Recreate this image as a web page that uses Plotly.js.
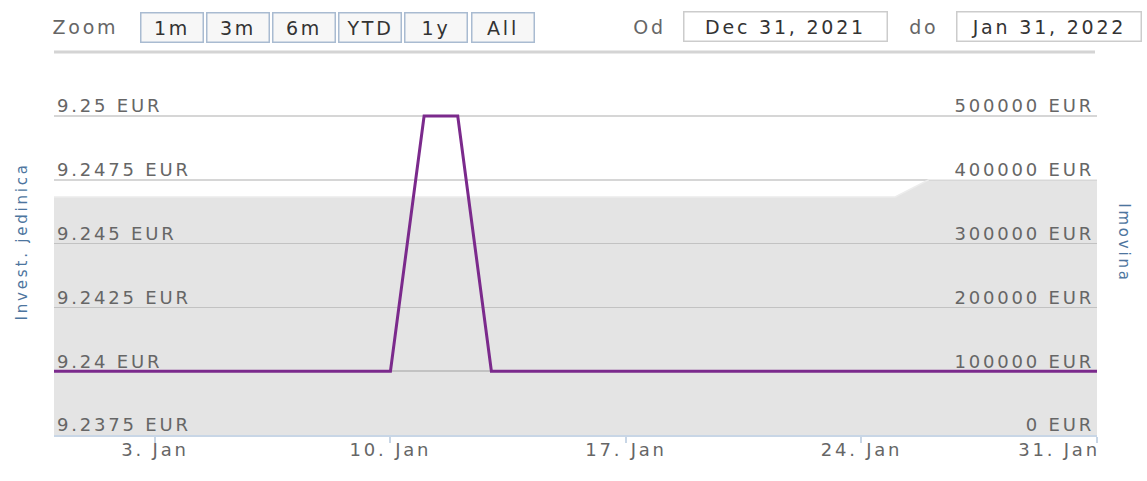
<!DOCTYPE html>
<html>
<head>
<meta charset="utf-8">
<script src="https://cdn.plot.ly/plotly-3.0.1.min.js"></script>
<style>
  html, body { margin: 0; padding: 0; background: #fff; }
  #chart { width: 1147px; height: 481px; }
  #chart svg text { letter-spacing: 2.8px; }
</style>
</head>
<body>
<div id="chart"></div>
<script>
// ---- data ----
const dates = [
  '2021-12-31','2022-01-01','2022-01-02','2022-01-03','2022-01-04','2022-01-05','2022-01-06',
  '2022-01-07','2022-01-08','2022-01-09','2022-01-10','2022-01-11','2022-01-12','2022-01-13',
  '2022-01-14','2022-01-15','2022-01-16','2022-01-17','2022-01-18','2022-01-19','2022-01-20',
  '2022-01-21','2022-01-22','2022-01-23','2022-01-24','2022-01-25','2022-01-26','2022-01-27',
  '2022-01-28','2022-01-29','2022-01-30','2022-01-31'
];
const unitPrice = [
  9.24, 9.24, 9.24, 9.24, 9.24, 9.24, 9.24,
  9.24, 9.24, 9.24, 9.24, 9.25, 9.25, 9.24,
  9.24, 9.24, 9.24, 9.24, 9.24, 9.24, 9.24,
  9.24, 9.24, 9.24, 9.24, 9.24, 9.24, 9.24,
  9.24, 9.24, 9.24, 9.24
];
const assets = [
  373000, 373000, 373000, 373000, 373000, 373000, 373000,
  373000, 373000, 373000, 373000, 373000, 373000, 373000,
  373000, 373000, 373000, 373000, 373000, 373000, 373000,
  373000, 373000, 373000, 373000, 373000, 400000, 400000,
  400000, 400000, 400000, 400000
];
const priceTickVals = [9.2375, 9.24, 9.2425, 9.245, 9.2475, 9.25];
const priceTickText = ['9.2375 EUR', '9.24 EUR', '9.2425 EUR', '9.245 EUR', '9.2475 EUR', '9.25 EUR'];
const assetTickVals = [0, 100000, 200000, 300000, 400000, 500000];
const assetTickText = ['0 EUR', '100000 EUR', '200000 EUR', '300000 EUR', '400000 EUR', '500000 EUR'];
const xTickVals = ['2022-01-03', '2022-01-10', '2022-01-17', '2022-01-24', '2022-01-31'];
const xTickText = ['3. Jan', '10. Jan', '17. Jan', '24. Jan', '31. Jan'];
const zoomButtons = ['1m', '3m', '6m', 'YTD', '1y', 'All'];
const fromDate = 'Dec 31, 2021';
const toDate = 'Jan 31, 2022';
const leftTitle = 'Invest. jedinica';
const rightTitle = 'Imovina';

// ---- geometry helpers (pixels -> paper) ----
const L = 54, R = 1097, T = 113, B = 435;
const gridTop = 116;
const px = x => (x - L) / (R - L);
const py = y => (B - y) / (B - T);
const stretch = (B - T) / (B - gridTop);

const font = 'DejaVu Sans, Verdana, sans-serif';
const grey = '#666666';

const traces = [
  {
    x: dates, y: assets, yaxis: 'y', type: 'scatter', mode: 'lines',
    fill: 'tozeroy', fillcolor: 'rgba(110,110,110,0.19)',
    line: { color: '#ececec', width: 1.5 },
    hoverinfo: 'skip', showlegend: false
  },
  {
    x: dates, y: unitPrice, yaxis: 'y2', type: 'scatter', mode: 'lines',
    line: { color: '#7b2a8c', width: 3 },
    showlegend: false
  }
];

const annotations = [];
zoomButtons.forEach((t, i) => {
  annotations.push({
    xref: 'paper', yref: 'paper', x: px(171.5 + i * 66.2), y: py(27),
    xanchor: 'center', yanchor: 'middle', showarrow: false,
    text: t, width: 61, height: 28, borderpad: 0,
    bgcolor: '#f7f7f7', bordercolor: '#a9bbd1', borderwidth: 1.5,
    font: { family: font, size: 19, color: '#333333' }
  });
});
annotations.push({
  xref: 'paper', yref: 'paper', x: px(54), y: py(27), xanchor: 'left', yanchor: 'middle',
  showarrow: false, text: 'Zoom', xshift: 2, font: { family: font, size: 19, color: grey }
});
annotations.push({
  xref: 'paper', yref: 'paper', x: px(649), y: py(27), xanchor: 'center', yanchor: 'middle',
  showarrow: false, text: 'Od', font: { family: font, size: 19, color: grey }
});
annotations.push({
  xref: 'paper', yref: 'paper', x: px(924), y: py(27), xanchor: 'center', yanchor: 'middle',
  showarrow: false, text: 'do', font: { family: font, size: 19, color: grey }
});
annotations.push({
  xref: 'paper', yref: 'paper', x: px(785), y: py(26.5), xanchor: 'center', yanchor: 'middle',
  showarrow: false, text: fromDate, width: 202, height: 28, borderpad: 0,
  bgcolor: '#ffffff', bordercolor: '#cccccc', borderwidth: 1.5,
  font: { family: font, size: 19, color: '#333333' }
});
annotations.push({
  xref: 'paper', yref: 'paper', x: px(1049), y: py(26.5), xanchor: 'center', yanchor: 'middle',
  showarrow: false, text: toDate, width: 183, height: 28, borderpad: 0,
  bgcolor: '#ffffff', bordercolor: '#cccccc', borderwidth: 1.5,
  font: { family: font, size: 19, color: '#333333' }
});
annotations.push({
  xref: 'paper', yref: 'paper', x: px(22), y: py(242), xanchor: 'center', yanchor: 'middle',
  showarrow: false, text: leftTitle, textangle: -90,
  font: { family: font, size: 15, color: '#4d759e' }
});
annotations.push({
  xref: 'paper', yref: 'paper', x: px(1124), y: py(243), xanchor: 'center', yanchor: 'middle',
  showarrow: false, text: rightTitle, textangle: 90,
  font: { family: font, size: 15, color: '#4d759e' }
});
// last x label is right-justified inside the chart like the original
annotations.push({
  xref: 'x', yref: 'paper', x: xTickVals[xTickVals.length - 1], y: 0,
  xanchor: 'right', yanchor: 'top', xshift: -5, yshift: -2,
  showarrow: false, text: xTickText[xTickText.length - 1],
  font: { family: font, size: 18, color: grey }
});

const layout = {
  width: 1147, height: 481,
  margin: { l: L, r: 1147 - R, t: T, b: 481 - B, pad: 0 },
  paper_bgcolor: '#ffffff', plot_bgcolor: '#ffffff',
  showlegend: false,
  font: { family: font, size: 18, color: grey },
  xaxis: {
    type: 'date',
    range: ['2021-12-31', '2022-01-31'],
    tickvals: xTickVals,
    ticktext: xTickText.map((t, i) => i === xTickText.length - 1 ? '' : t),
    ticks: 'outside', ticklen: 6, tickwidth: 2, tickcolor: '#c8d6e6',
    ticklabelstandoff: -9, ticklabeloverflow: 'allow',
    showline: true, linecolor: '#c8d6e6', linewidth: 2,
    showgrid: false, zeroline: false,
    tickfont: { family: font, size: 18, color: grey },
    fixedrange: true
  },
  yaxis: {
    side: 'right',
    range: [0, 500000 * stretch],
    tickvals: assetTickVals, ticktext: assetTickText,
    ticklabelposition: 'inside', ticks: '', ticklabeloverflow: 'allow',
    ticklabelshift: -10, ticklabelstandoff: 0,
    showgrid: true, gridcolor: '#d6d6d6', gridwidth: 1.5,
    zeroline: false, showline: false,
    tickfont: { family: font, size: 18, color: grey },
    fixedrange: true
  },
  yaxis2: {
    overlaying: 'y', side: 'left',
    range: [9.2375, 9.2375 + 0.0125 * stretch],
    tickvals: priceTickVals, ticktext: priceTickText,
    ticklabelposition: 'inside', ticks: '', ticklabeloverflow: 'allow',
    ticklabelshift: -10, ticklabelstandoff: 0,
    showgrid: false, zeroline: false, showline: false,
    tickfont: { family: font, size: 18, color: grey },
    fixedrange: true
  },
  shapes: [
    {
      type: 'line', xref: 'paper', yref: 'paper',
      x0: px(54), x1: px(1095), y0: py(52), y1: py(52),
      line: { color: '#d4d4d4', width: 3 }
    }
  ],
  annotations: annotations
};

Plotly.newPlot('chart', traces, layout, { displayModeBar: false, staticPlot: true });
</script>
</body>
</html>
